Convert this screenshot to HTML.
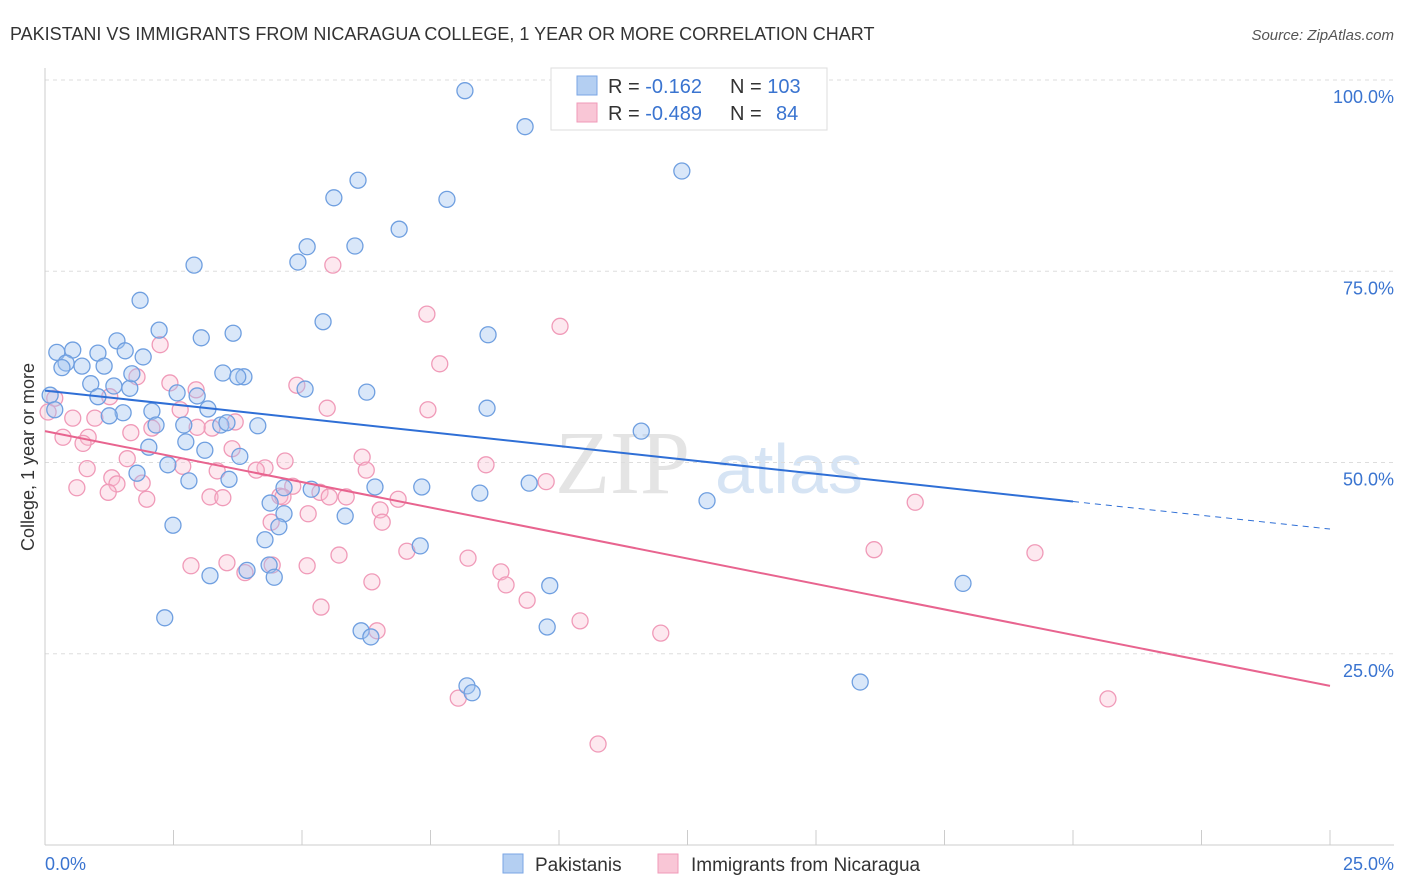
<!DOCTYPE html>
<html><head><meta charset="utf-8"><style>
body{margin:0;background:#fff;font-family:"Liberation Sans",sans-serif}
svg{display:block}
</style></head><body>
<svg id="chart" width="1406" height="892" xmlns="http://www.w3.org/2000/svg">
<text x="10" y="40" font-size="18" fill="#333">PAKISTANI VS IMMIGRANTS FROM NICARAGUA COLLEGE, 1 YEAR OR MORE CORRELATION CHART</text>
<text x="1394" y="40" font-size="15" fill="#555" text-anchor="end" font-style="italic">Source: ZipAtlas.com</text>
<text x="555" y="493" font-size="90" fill="#e4e4e4" font-family="Liberation Serif">ZIP</text>
<text x="715" y="493" font-size="70" fill="#d6e4f4">atlas</text>
<g id="grid"></g><g id="axes"></g><g id="pts"></g><g id="lines"></g>
<g>
<rect x="551" y="68" width="276" height="62" fill="#fff" stroke="#ddd"/>
<rect x="577" y="76" width="20" height="19" fill="#b4cff2" stroke="#7aa6e4"/>
<rect x="577" y="103" width="20" height="19" fill="#f9c6d6" stroke="#f09ab8"/>
<text x="608" y="93" font-size="20" fill="#333">R = <tspan fill="#3a74d0"> -0.162</tspan>  <tspan x="730">N = </tspan><tspan fill="#3a74d0">103</tspan></text>
<text x="608" y="120" font-size="20" fill="#333">R = <tspan fill="#3a74d0">-0.489</tspan>  <tspan x="730">N = </tspan><tspan fill="#3a74d0" x="776">84</tspan></text>
</g>
<g>
<rect x="503" y="854" width="20" height="19" fill="#b4cff2" stroke="#7aa6e4"/>
<text x="535" y="871" font-size="19" fill="#333">Pakistanis</text>
<rect x="658" y="854" width="20" height="19" fill="#f9c6d6" stroke="#f09ab8"/>
<text x="691" y="871" font-size="19" fill="#333">Immigrants from Nicaragua</text>
</g>
<text x="45" y="870" font-size="18" fill="#3a74d0">0.0%</text>
<text x="1394" y="870" font-size="18" fill="#3a74d0" text-anchor="end">25.0%</text>
<text x="34" y="457" font-size="18" fill="#333" text-anchor="middle" transform="rotate(-90 34 457)">College, 1 year or more</text>
</svg>
<script>
const yTicks=[100,75,50,25];
const yTickLabels=["100.0%","75.0%","50.0%","25.0%"];
const blueX=[(465),(525),(682),(358),(334),(447),(399),(307),(355),(298),(194),(140),(323),(488),(159),(233),(201),(117),(57),(73),(98),(125),(143),(66),(82),(104),(62),(91),(114),(130),(132),(223),(244),(238),(305),(367),(177),(197),(98),(152),(123),(109),(208),(487),(156),(184),(258),(221),(227),(641),(149),(186),(205),(240),(137),(168),(229),(189),(375),(529),(422),(480),(311),(284),(270),(707),(284),(345),(173),(265),(279),(420),(269),(247),(274),(210),(550),(963),(165),(361),(371),(547),(860),(467),(472),(50),(55)].map(p=>+((p-45)/51.4).toFixed(2));
const blueY=[91,127,171,180,198,199,229,247,246,262,265,300,322,335,330,333,338,341,352,350,353,351,357,363,366,366,368,384,386,388,374,373,377,377,389,392,393,396,397,411,413,416,409,408,425,425,426,425,423,431,447,442,450,456,473,465,479,481,487,483,487,493,489,488,503,501,514,516,525,540,527,546,565,570,577,576,586,583,618,631,637,627,682,686,693,395,410].map(p=>+((845-p)/7.65).toFixed(1));
const pinkX=[333,427,560,160,440,137,297,170,196,110,55,48,428,327,180,235,212,73,95,152,63,88,131,83,232,197,362,486,285,127,265,183,256,217,366,87,112,117,142,77,108,210,223,293,320,329,346,398,546,147,380,308,382,271,280,915,339,407,468,874,1035,191,227,245,272,307,372,501,506,527,321,580,661,377,458,598,1108,283].map(p=>+((p-45)/51.4).toFixed(2));
const pinkY=[265,314,326,345,364,377,385,383,390,397,398,412,410,408,410,422,428,418,418,428,437,437,433,443,449,427,457,465,461,459,468,466,470,471,470,469,478,484,483,488,492,497,498,486,492,497,497,499,482,499,510,514,522,522,496,502,555,551,558,550,553,566,563,573,565,566,582,572,585,600,607,621,633,631,698,744,699,497].map(p=>+((845-p)/7.65).toFixed(1));
const blueLine=[59.4,44.9,41.3], pinkLine=[54.1,20.8];
const X=v=>45+v*51.4, Y=v=>845-v*7.65;
const NS="http://www.w3.org/2000/svg";
function mk(t,a,parent){const e=document.createElementNS(NS,t);for(const k in a)e.setAttribute(k,a[k]);document.getElementById(parent).appendChild(e);return e;}
yTicks.forEach((t,i)=>{
 const g=mk('line',{x1:45,x2:1394,y1:Y(t),y2:Y(t),stroke:'#ddd','stroke-dasharray':'4 4'},'grid');
 
 
 const l=mk('text',{x:1394,y:Y(t)+23,'font-size':18,fill:'#3a74d0','text-anchor':'end'},'grid');
 l.textContent=yTickLabels[i];
 
 
});
mk('line',{x1:45,x2:45,y1:68,y2:845,stroke:'#ccc'},'axes');
mk('line',{x1:45,x2:1394,y1:845,y2:845,stroke:'#ccc'},'axes');
for(let i=1;i<=10;i++){const t=mk('line',{x1:X(i*2.5),x2:X(i*2.5),y1:830,y2:845,stroke:'#ccc'},'axes');
 
 }
function pts(xs,ys,stroke,fill,name){xs.forEach((x,i)=>{const c=mk('circle',{cx:X(x),cy:Y(ys[i]),r:8,fill:fill,stroke:stroke,'stroke-width':1.3},'pts');
 
 });}
pts(pinkX,pinkY,'#f09ab8','rgba(248,190,210,0.35)','pink-point');
pts(blueX,blueY,'#6f9fe0','rgba(160,196,240,0.4)','blue-point');
let l1=mk('line',{x1:X(0),y1:Y(blueLine[0]),x2:X(20),y2:Y(blueLine[1]),stroke:'#2f6fd6','stroke-width':2},'lines');


let l2=mk('line',{x1:X(20),y1:Y(blueLine[1]),x2:X(25),y2:Y(blueLine[2]),stroke:'#2f6fd6','stroke-width':1,'stroke-dasharray':'6 5'},'lines');


let l3=mk('line',{x1:X(0),y1:Y(pinkLine[0]),x2:X(25),y2:Y(pinkLine[1]),stroke:'#e8648f','stroke-width':2},'lines');


</script>
</body></html>
